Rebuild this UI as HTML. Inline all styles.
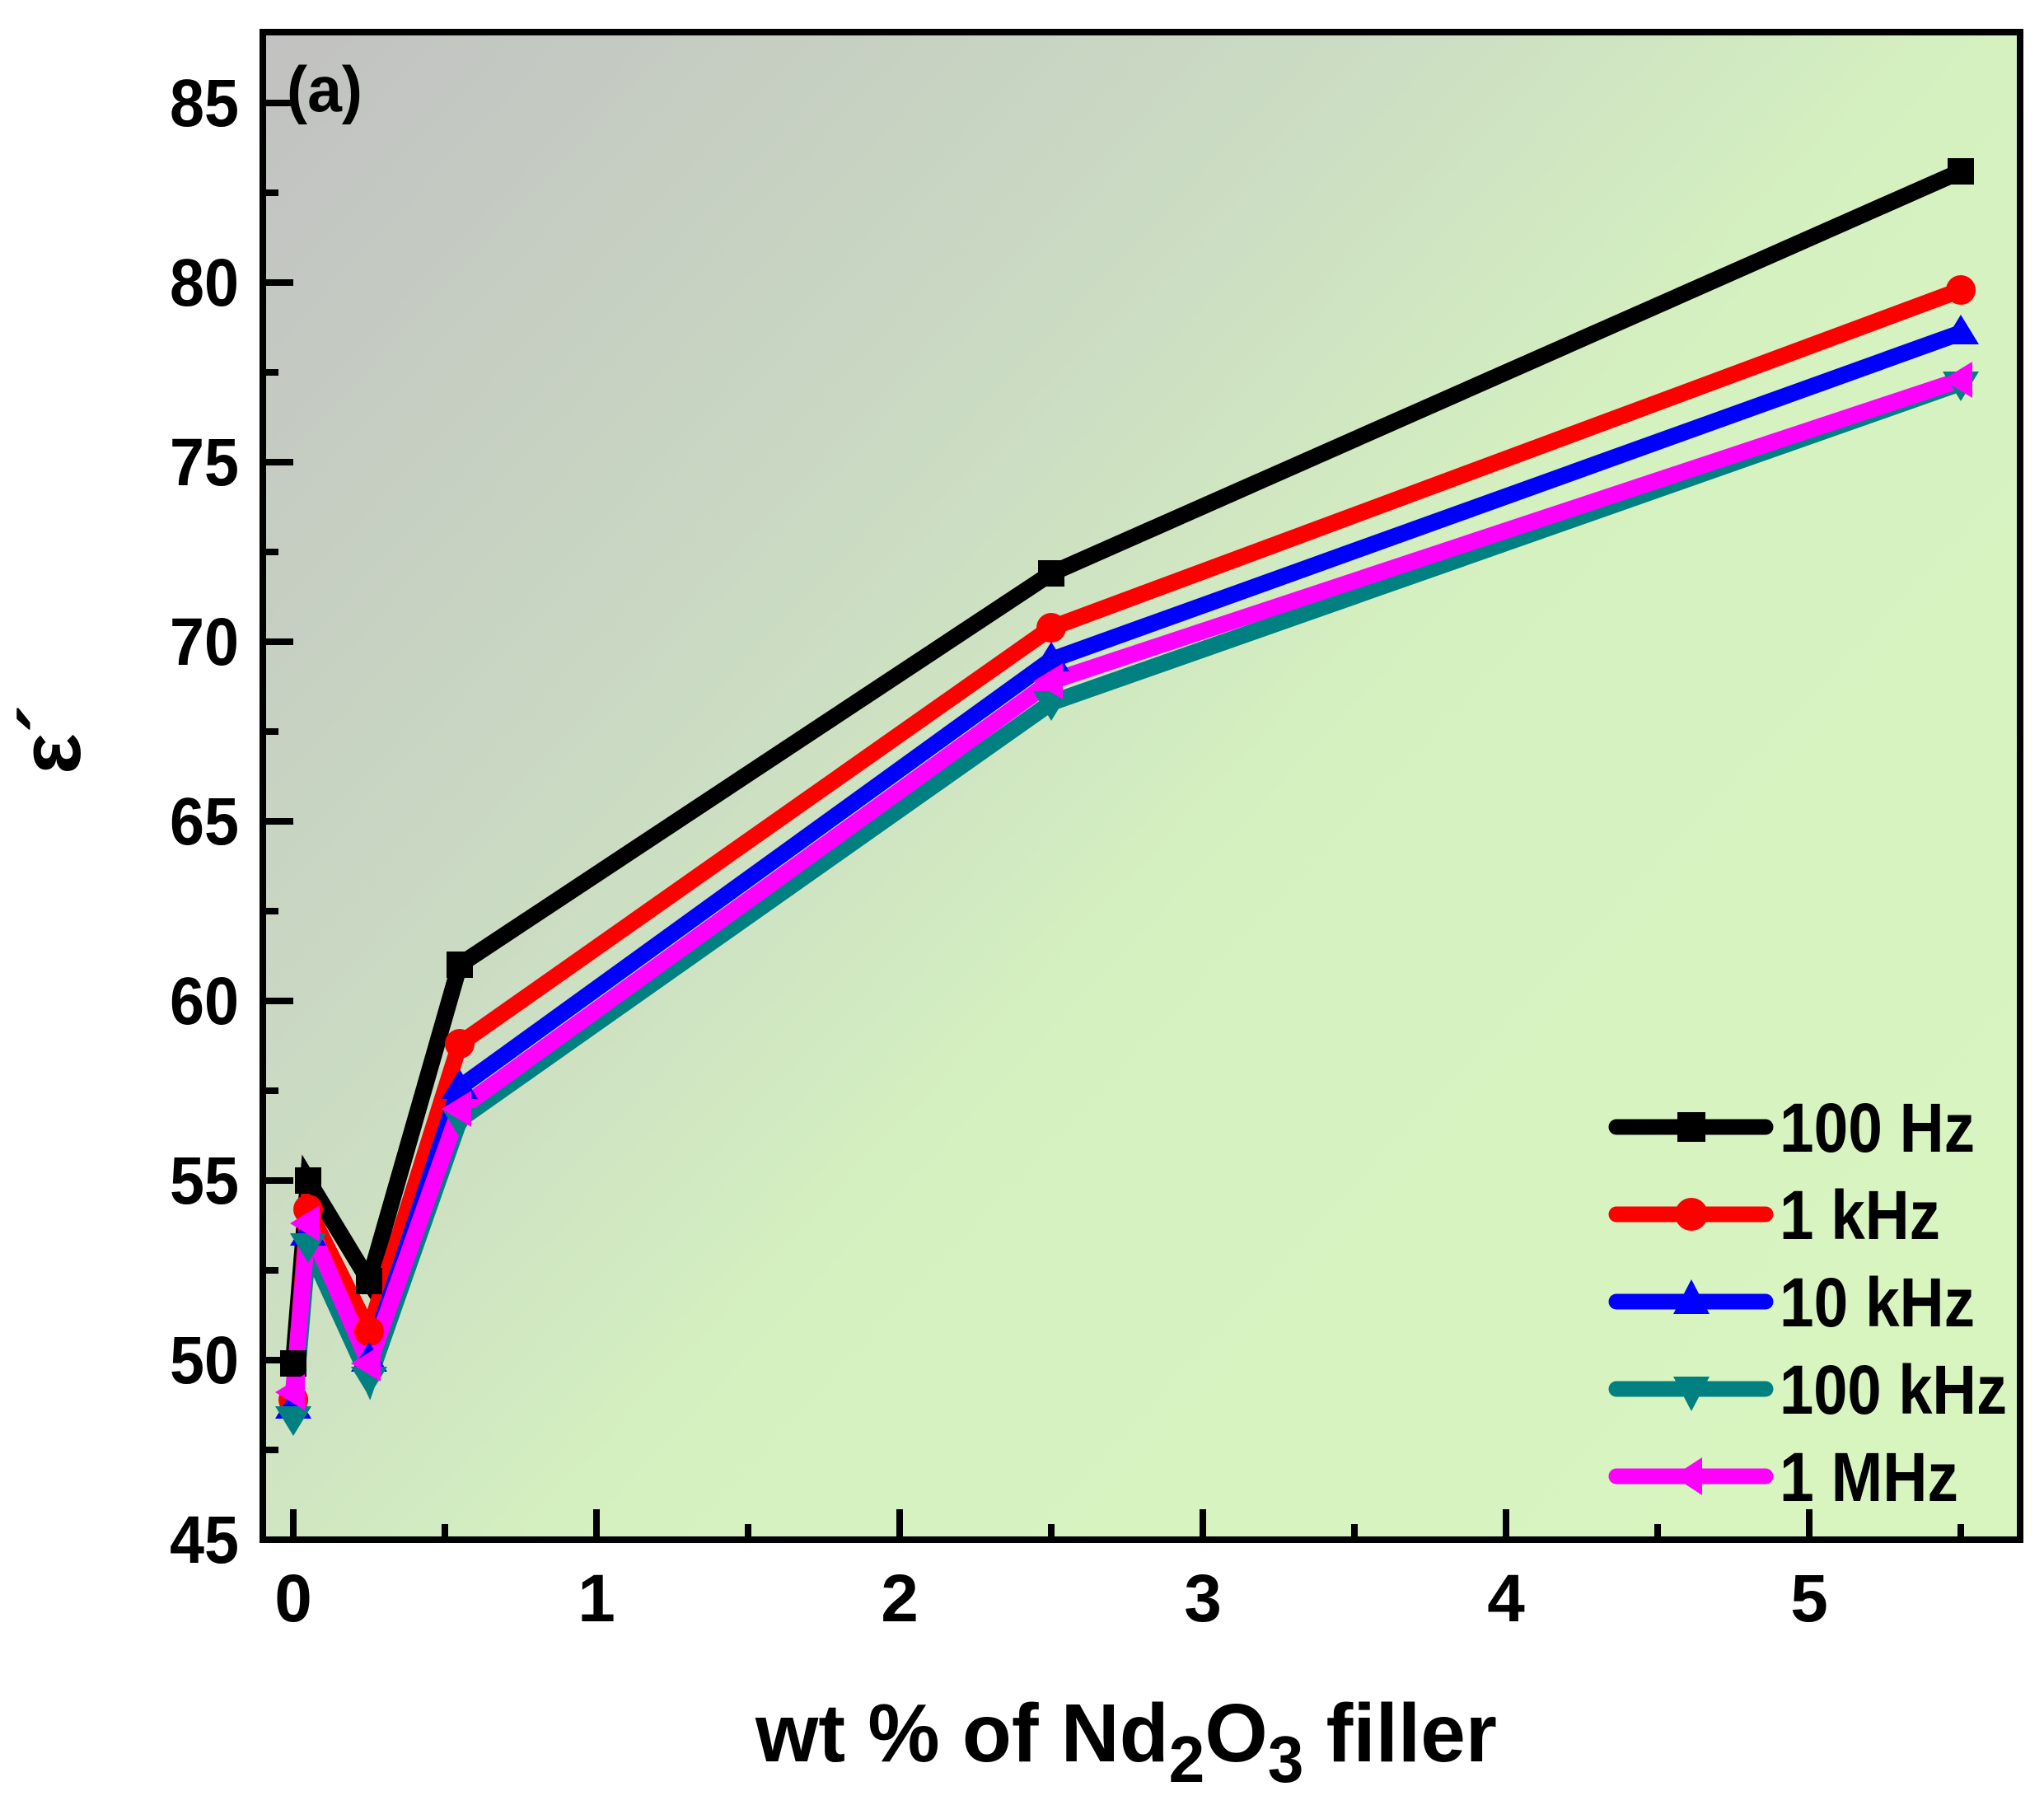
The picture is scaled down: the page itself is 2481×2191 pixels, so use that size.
<!DOCTYPE html>
<html><head><meta charset="utf-8"><style>
html,body{margin:0;padding:0;background:#fff;}
svg{display:block;}
text{font-family:"Liberation Sans",sans-serif;font-weight:bold;fill:#000;}
</style></head><body>
<svg width="2481" height="2191" viewBox="0 0 2481 2191" xmlns="http://www.w3.org/2000/svg">
<defs>
<linearGradient id="bg" x1="0" y1="0" x2="1" y2="0.8">
<stop offset="0" stop-color="#c1c1c1"/>
<stop offset="0.38" stop-color="#cbdcc3"/>
<stop offset="0.6" stop-color="#d5f1c0"/>
<stop offset="1" stop-color="#d8f5c0"/>
</linearGradient>
</defs>
<rect x="319" y="39" width="2133" height="1830" fill="url(#bg)"/>
<g stroke="#000" stroke-width="8">
<line x1="319" y1="1869" x2="356" y2="1869"/>
<line x1="319" y1="1760" x2="338" y2="1760"/>
<line x1="319" y1="1651" x2="356" y2="1651"/>
<line x1="319" y1="1542" x2="338" y2="1542"/>
<line x1="319" y1="1433" x2="356" y2="1433"/>
<line x1="319" y1="1324" x2="338" y2="1324"/>
<line x1="319" y1="1215" x2="356" y2="1215"/>
<line x1="319" y1="1106" x2="338" y2="1106"/>
<line x1="319" y1="997" x2="356" y2="997"/>
<line x1="319" y1="888" x2="338" y2="888"/>
<line x1="319" y1="779" x2="356" y2="779"/>
<line x1="319" y1="670" x2="338" y2="670"/>
<line x1="319" y1="561" x2="356" y2="561"/>
<line x1="319" y1="452" x2="338" y2="452"/>
<line x1="319" y1="343" x2="356" y2="343"/>
<line x1="319" y1="234" x2="338" y2="234"/>
<line x1="319" y1="125" x2="356" y2="125"/>
<line x1="356" y1="1869" x2="356" y2="1832"/>
<line x1="540" y1="1869" x2="540" y2="1850"/>
<line x1="724" y1="1869" x2="724" y2="1832"/>
<line x1="908" y1="1869" x2="908" y2="1850"/>
<line x1="1092" y1="1869" x2="1092" y2="1832"/>
<line x1="1276" y1="1869" x2="1276" y2="1850"/>
<line x1="1460" y1="1869" x2="1460" y2="1832"/>
<line x1="1644" y1="1869" x2="1644" y2="1850"/>
<line x1="1828" y1="1869" x2="1828" y2="1832"/>
<line x1="2012" y1="1869" x2="2012" y2="1850"/>
<line x1="2196" y1="1869" x2="2196" y2="1832"/>
<line x1="2380" y1="1869" x2="2380" y2="1850"/>
</g>
<rect x="319" y="39" width="2133" height="1830" fill="none" stroke="#000" stroke-width="8"/>
<g fill="none" stroke-width="20" stroke-linejoin="miter">
<polyline stroke="#000" points="356,1655 374,1433 448,1555 558,1171 1276,696 2380,208"/>
<polyline stroke="#f00" points="356,1699 374,1468 448,1616 558,1267 1276,762 2380,352"/>
<polyline stroke="#00f" points="356,1708 374,1498 448,1651 558,1320 1276,801 2380,404"/>
<polyline stroke="#008080" points="356,1721 374,1511 448,1673 558,1359 1276,853 2380,465"/>
<polyline stroke="#f0f" points="356,1690 374,1485 448,1655 558,1346 1276,827 2380,461"/>
</g>
<g fill="#000">
<rect x="340" y="1639" width="32" height="32"/><rect x="358" y="1417" width="32" height="32"/><rect x="432" y="1539" width="32" height="32"/><rect x="542" y="1155" width="32" height="32"/><rect x="1260" y="680" width="32" height="32"/><rect x="2364" y="192" width="32" height="32"/>
</g>
<g fill="#f00">
<circle cx="356" cy="1699" r="18"/><circle cx="374" cy="1468" r="18"/><circle cx="448" cy="1616" r="18"/><circle cx="558" cy="1267" r="18"/><circle cx="1276" cy="762" r="18"/><circle cx="2380" cy="352" r="18"/>
</g>
<g fill="#00f">
<polygon points="356,1686 378,1722 334,1722"/><polygon points="374,1476 396,1512 352,1512"/><polygon points="448,1629 470,1665 426,1665"/><polygon points="558,1298 580,1334 536,1334"/><polygon points="1276,779 1298,815 1254,815"/><polygon points="2380,382 2402,418 2358,418"/>
</g>
<g fill="#008080">
<polygon points="356,1743 378,1707 334,1707"/><polygon points="374,1533 396,1497 352,1497"/><polygon points="448,1695 470,1659 426,1659"/><polygon points="558,1381 580,1345 536,1345"/><polygon points="1276,875 1298,839 1254,839"/><polygon points="2380,487 2402,451 2358,451"/>
</g>
<g fill="#f0f">
<polygon points="334,1690 370,1668 370,1712"/><polygon points="352,1485 388,1463 388,1507"/><polygon points="426,1655 462,1633 462,1677"/><polygon points="536,1346 572,1324 572,1368"/><polygon points="1254,827 1290,805 1290,849"/><polygon points="2358,461 2394,439 2394,483"/>
</g>
<g font-size="82" text-anchor="end">
<text x="290" y="1897" textLength="84" lengthAdjust="spacingAndGlyphs">45</text>
<text x="290" y="1679" textLength="84" lengthAdjust="spacingAndGlyphs">50</text>
<text x="290" y="1461" textLength="84" lengthAdjust="spacingAndGlyphs">55</text>
<text x="290" y="1243" textLength="84" lengthAdjust="spacingAndGlyphs">60</text>
<text x="290" y="1025" textLength="84" lengthAdjust="spacingAndGlyphs">65</text>
<text x="290" y="807" textLength="84" lengthAdjust="spacingAndGlyphs">70</text>
<text x="290" y="589" textLength="84" lengthAdjust="spacingAndGlyphs">75</text>
<text x="290" y="371" textLength="84" lengthAdjust="spacingAndGlyphs">80</text>
<text x="290" y="153" textLength="84" lengthAdjust="spacingAndGlyphs">85</text>
</g>
<g font-size="82" text-anchor="middle">
<text x="356" y="1968">0</text>
<text x="724" y="1968">1</text>
<text x="1092" y="1968">2</text>
<text x="1460" y="1968">3</text>
<text x="1828" y="1968">4</text>
<text x="2196" y="1968">5</text>
</g>
<text x="348" y="135" font-size="78" textLength="92" lengthAdjust="spacingAndGlyphs">(a)</text>
<text x="917" y="2138" font-size="100" textLength="900" lengthAdjust="spacingAndGlyphs">wt % of Nd<tspan font-size="80" dy="25">2</tspan><tspan dy="-25">O</tspan><tspan font-size="80" dy="25">3</tspan><tspan dy="-25"> filler</tspan></text>
<text transform="translate(97,940) rotate(-90)" font-size="105">ε´</text>
<g stroke-width="19" stroke-linecap="round">
<line x1="1962" y1="1368" x2="2143" y2="1368" stroke="#000"/>
<line x1="1962" y1="1474" x2="2143" y2="1474" stroke="#f00"/>
<line x1="1962" y1="1580" x2="2143" y2="1580" stroke="#00f"/>
<line x1="1962" y1="1686" x2="2143" y2="1686" stroke="#008080"/>
<line x1="1962" y1="1792" x2="2143" y2="1792" stroke="#f0f"/>
</g>
<rect x="2036" y="1350" width="34" height="36" fill="#000"/>
<circle cx="2053" cy="1474" r="20" fill="#f00"/>
<polygon points="2053,1553 2075,1595 2031,1595" fill="#00f"/>
<polygon points="2053,1713 2075,1671 2031,1671" fill="#008080"/>
<polygon points="2031,1792 2066,1769 2066,1815" fill="#f0f"/>
<g font-size="84">
<text x="2160" y="1398" textLength="237" lengthAdjust="spacingAndGlyphs">100 Hz</text>
<text x="2160" y="1504" textLength="195" lengthAdjust="spacingAndGlyphs">1 kHz</text>
<text x="2160" y="1610" textLength="237" lengthAdjust="spacingAndGlyphs">10 kHz</text>
<text x="2160" y="1716" textLength="276" lengthAdjust="spacingAndGlyphs">100 kHz</text>
<text x="2160" y="1822" textLength="217" lengthAdjust="spacingAndGlyphs">1 MHz</text>
</g>
</svg>
</body></html>
